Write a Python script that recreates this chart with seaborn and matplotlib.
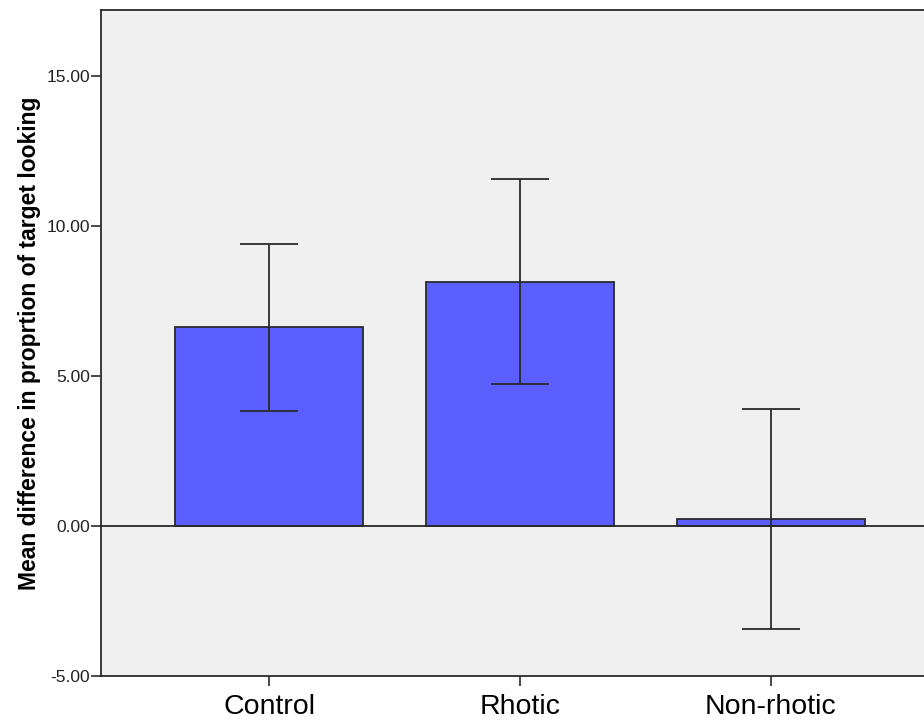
import pandas as pd
import seaborn as sns
import matplotlib.pyplot as plt

groups = ['Control', 'Rhotic', 'Non-rhotic']
means = [6.61, 8.14, 0.23]
ci_low = [3.83, 4.73, -3.43]
ci_high = [9.38, 11.56, 3.90]

df = pd.DataFrame({'Group': groups, 'Mean': means})

sns.set_theme(style='white')
plt.rcParams['font.family'] = ['Liberation Sans', 'DejaVu Sans']

fig = plt.figure(figsize=(9.24, 7.2), dpi=100)
# axes runs a bit past the right edge, like the original export
ax = fig.add_axes([101 / 924, 1 - 676 / 720, (939 - 101) / 924, (676 - 9.5) / 720])
ax.set_facecolor('#f0f0f0')

sns.barplot(data=df, x='Group', y='Mean', order=groups, color='#5b5fff',
            saturation=1, width=0.75, edgecolor='#2a2a2a', linewidth=1.3,
            errorbar=None, ax=ax, zorder=2)

ax.axhline(0, color='#2a2a2a', lw=1.3, zorder=3)

yerr = [[m - lo for m, lo in zip(means, ci_low)],
        [hi - m for m, hi in zip(means, ci_high)]]
ax.errorbar(range(len(groups)), means, yerr=yerr, fmt='none',
            ecolor='#2a2a2a', elinewidth=1.3, capsize=21, capthick=1.3, zorder=4)

ax.set_ylim(-5, 17.2)
ax.set_xlim(-0.67, 2.67)
ax.set_yticks([-5, 0, 5, 10, 15])
ax.set_yticklabels([f'{v:.2f}' for v in [-5, 0, 5, 10, 15]])

ax.set_xlabel('')
ax.set_ylabel('Mean difference in proprtion of target looking',
              fontsize=16.5, fontweight='bold', color='black', labelpad=4)

ax.tick_params(axis='y', which='both', left=True, length=7, width=1.2,
               color='#2a2a2a', labelsize=12.5, labelcolor='#222222', pad=1)
ax.tick_params(axis='x', which='both', bottom=True, length=7, width=1.2,
               color='#2a2a2a', labelsize=20.5, labelcolor='black', pad=6)

for side in ['left', 'bottom', 'top']:
    ax.spines[side].set_visible(True)
    ax.spines[side].set_color('#2a2a2a')
    ax.spines[side].set_linewidth(1.3)
ax.spines['right'].set_visible(False)

fig.savefig('out.png', dpi=100)
